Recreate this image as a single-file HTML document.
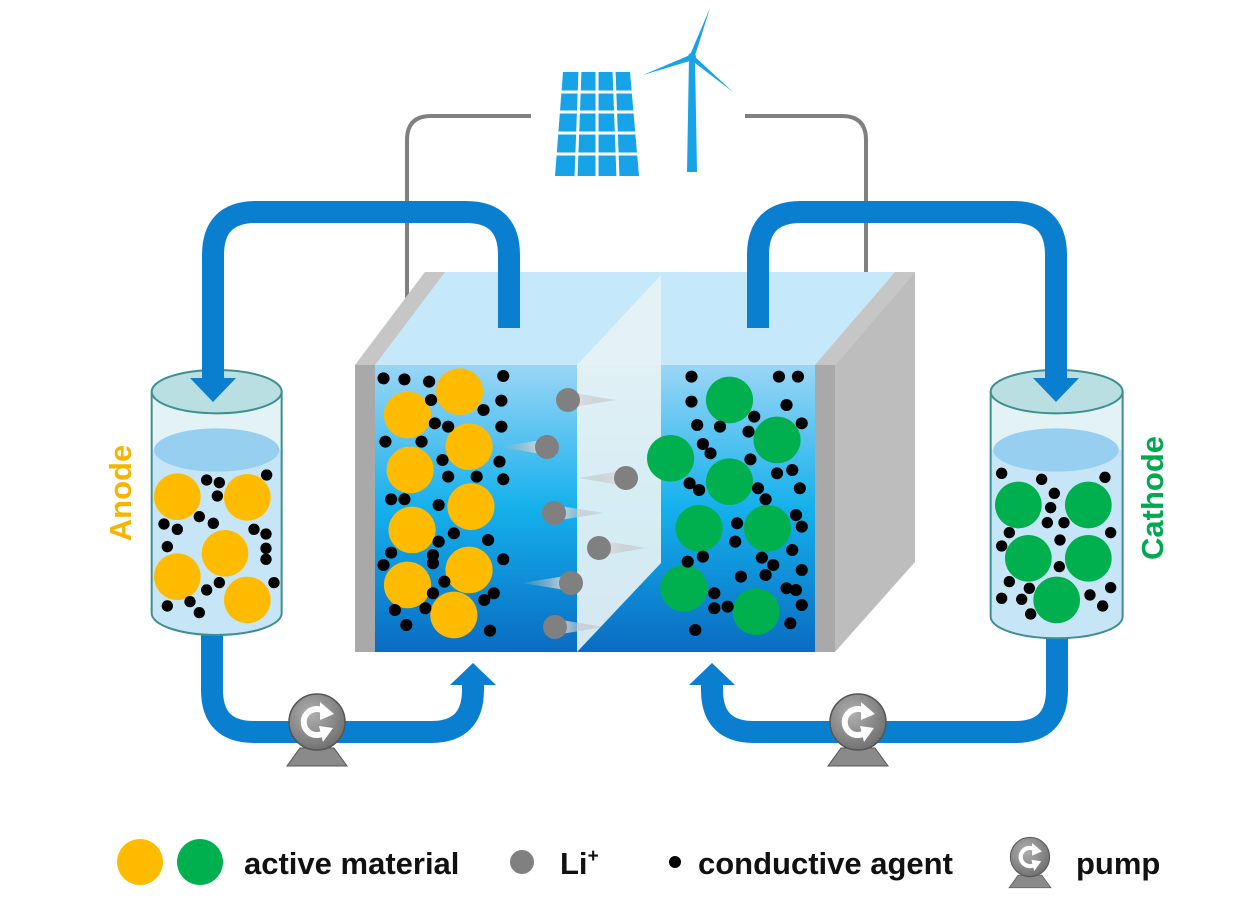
<!DOCTYPE html>
<html><head><meta charset="utf-8"><style>
html,body{margin:0;padding:0;background:#fff}
svg{display:block}
text{font-family:"Liberation Sans",Arial,sans-serif;font-weight:bold}
</style></head><body>
<svg width="1260" height="903" viewBox="0 0 1260 903" xmlns="http://www.w3.org/2000/svg">
<defs>
<linearGradient id="fr" x1="0" y1="0" x2="0" y2="1">
<stop offset="0" stop-color="#9ad6f6"/><stop offset="0.5" stop-color="#14b0ec"/><stop offset="1" stop-color="#0a6cc2"/>
</linearGradient>
<radialGradient id="pg" cx="0.4" cy="0.35" r="0.7">
<stop offset="0" stop-color="#b0b0b0"/><stop offset="1" stop-color="#6e6e6e"/>
</radialGradient>
<linearGradient id="tl" x1="0" y1="0" x2="1" y2="0">
<stop offset="0" stop-color="#e8e8e8" stop-opacity="0.95"/><stop offset="1" stop-color="#a0a0a0" stop-opacity="0.2"/>
</linearGradient>
<linearGradient id="tr" x1="1" y1="0" x2="0" y2="0">
<stop offset="0" stop-color="#e8e8e8" stop-opacity="0.95"/><stop offset="1" stop-color="#a0a0a0" stop-opacity="0.2"/>
</linearGradient>
<g id="pump">
<polygon points="-17,26 17,26 30,44 -30,44" fill="#8a8a8a" stroke="#555" stroke-width="1"/>
<circle r="28" fill="url(#pg)" stroke="#555" stroke-width="1.5"/>
<path d="M8,-10 A13,13 0 1 0 10,8" fill="none" stroke="#fff" stroke-width="6"/>
<polygon points="3,-20 17,-8 3,-2" fill="#fff"/>
<polygon points="2,4 16,6 6,20" fill="#fff"/>
</g>
</defs>

<path d="M407,318 V140 Q407,116 431,116 H531" fill="none" stroke="#808080" stroke-width="4"/>
<path d="M866,318 V140 Q866,116 842,116 H745" fill="none" stroke="#808080" stroke-width="4"/>

<polygon points="563,72 630,72 639,176 555,176" fill="#17a3e8"/>
<g stroke="#fff" stroke-width="3">
<line x1="580" y1="70" x2="576" y2="178"/><line x1="597" y1="70" x2="597" y2="178"/><line x1="614" y1="70" x2="618" y2="178"/>
<line x1="560" y1="92" x2="634" y2="92"/><line x1="558" y1="112" x2="636" y2="112"/><line x1="557" y1="133" x2="637" y2="133"/><line x1="556" y1="154" x2="638" y2="154"/>
</g>
<polygon points="689,58 695,58 697,172 687,172" fill="#17a3e8"/>
<polygon points="690,55 694,59 710,8" fill="#17a3e8"/>
<polygon points="690,55 693,60 643,75" fill="#17a3e8"/>
<polygon points="691,60 694,56 733,92" fill="#17a3e8"/>
<circle cx="692" cy="57" r="4" fill="#17a3e8"/>

<g fill="none" stroke="#0a7fd0" stroke-width="22">
<path d="M213,380 V255 Q213,212 256,212 H466 Q509,212 509,255 V328"/>
<path d="M758,328 V255 Q758,212 801,212 H1013 Q1056,212 1056,255 V380"/>
<path d="M212,620 V690 Q212,732 254,732 H431 Q473,732 473,690 V680"/>
<path d="M1057,620 V690 Q1057,732 1015,732 H754 Q712,732 712,690 V680"/>
</g>
<g fill="#0a7fd0">
<polygon points="473,663 450,685 496,685"/>
<polygon points="712,663 689,685 735,685"/>
</g>

<polygon points="355,365 425,272 915,272 835,365" fill="#c5e8fa"/>
<polygon points="355,365 375,365 445,272 425,272" fill="#c6c6c6"/>
<polygon points="815,365 835,365 915,272 895,272" fill="#c6c6c6"/>
<polygon points="835,365 915,272 915,562 835,652" fill="#bdbdbd"/>
<rect x="375" y="365" width="440" height="287" fill="url(#fr)"/>
<rect x="355" y="365" width="20" height="287" fill="#a9a9a9"/>
<rect x="815" y="365" width="20" height="287" fill="#a9a9a9"/>
<polygon points="577,365 661,275 661,563 577,652" fill="#e6f2f4" fill-opacity="0.92"/>

<g fill="#0a7fd0">
<rect x="498" y="272" width="22" height="56"/>
<rect x="747" y="272" width="22" height="56"/>
</g>

<g transform="matrix(0.3802 0 0 0.3333 339.8 260)">
<g fill="#ffbb00">
<ellipse cx="315" cy="395" rx="62" ry="70"/><ellipse cx="178" cy="465" rx="62" ry="70"/><ellipse cx="340" cy="560" rx="62" ry="70"/>
<ellipse cx="185" cy="630" rx="62" ry="70"/><ellipse cx="345" cy="740" rx="62" ry="70"/><ellipse cx="190" cy="810" rx="62" ry="70"/>
<ellipse cx="340" cy="930" rx="62" ry="70"/><ellipse cx="178" cy="975" rx="62" ry="70"/><ellipse cx="300" cy="1065" rx="62" ry="70"/>
</g>
<g fill="#00b04f">
<ellipse cx="1025" cy="420" rx="62" ry="70"/><ellipse cx="1150" cy="540" rx="62" ry="70"/><ellipse cx="870" cy="595" rx="62" ry="70"/>
<ellipse cx="1025" cy="665" rx="62" ry="70"/><ellipse cx="945" cy="805" rx="62" ry="70"/><ellipse cx="1125" cy="805" rx="62" ry="70"/>
<ellipse cx="905" cy="985" rx="62" ry="70"/><ellipse cx="1095" cy="1055" rx="62" ry="70"/>
</g>
<g fill="#000">
<ellipse cx="115" cy="355" rx="16" ry="18"/><ellipse cx="170" cy="358" rx="16" ry="18"/><ellipse cx="235" cy="365" rx="16" ry="18"/><ellipse cx="430" cy="348" rx="16" ry="18"/>
<ellipse cx="240" cy="420" rx="16" ry="18"/><ellipse cx="378" cy="450" rx="16" ry="18"/><ellipse cx="425" cy="422" rx="16" ry="18"/><ellipse cx="250" cy="490" rx="16" ry="18"/>
<ellipse cx="285" cy="500" rx="16" ry="18"/><ellipse cx="425" cy="500" rx="16" ry="18"/><ellipse cx="120" cy="545" rx="16" ry="18"/><ellipse cx="215" cy="545" rx="16" ry="18"/>
<ellipse cx="270" cy="600" rx="16" ry="18"/><ellipse cx="420" cy="605" rx="16" ry="18"/><ellipse cx="285" cy="650" rx="16" ry="18"/><ellipse cx="360" cy="650" rx="16" ry="18"/>
<ellipse cx="430" cy="658" rx="16" ry="18"/><ellipse cx="135" cy="718" rx="16" ry="18"/><ellipse cx="170" cy="718" rx="16" ry="18"/><ellipse cx="260" cy="735" rx="16" ry="18"/>
<ellipse cx="300" cy="820" rx="16" ry="18"/><ellipse cx="390" cy="840" rx="16" ry="18"/><ellipse cx="260" cy="845" rx="16" ry="18"/><ellipse cx="135" cy="878" rx="16" ry="18"/>
<ellipse cx="245" cy="885" rx="16" ry="18"/><ellipse cx="430" cy="898" rx="16" ry="18"/><ellipse cx="115" cy="915" rx="16" ry="18"/><ellipse cx="245" cy="910" rx="16" ry="18"/>
<ellipse cx="275" cy="965" rx="16" ry="18"/><ellipse cx="245" cy="1000" rx="16" ry="18"/><ellipse cx="405" cy="1000" rx="16" ry="18"/><ellipse cx="380" cy="1020" rx="16" ry="18"/>
<ellipse cx="145" cy="1050" rx="16" ry="18"/><ellipse cx="225" cy="1045" rx="16" ry="18"/><ellipse cx="175" cy="1095" rx="16" ry="18"/><ellipse cx="395" cy="1112" rx="16" ry="18"/>
<ellipse cx="925" cy="350" rx="16" ry="18"/><ellipse cx="1155" cy="350" rx="16" ry="18"/><ellipse cx="1205" cy="350" rx="16" ry="18"/><ellipse cx="925" cy="425" rx="16" ry="18"/>
<ellipse cx="1175" cy="435" rx="16" ry="18"/><ellipse cx="940" cy="495" rx="16" ry="18"/><ellipse cx="1000" cy="500" rx="16" ry="18"/><ellipse cx="1090" cy="470" rx="16" ry="18"/>
<ellipse cx="1075" cy="515" rx="16" ry="18"/><ellipse cx="1215" cy="490" rx="16" ry="18"/><ellipse cx="955" cy="552" rx="16" ry="18"/><ellipse cx="975" cy="580" rx="16" ry="18"/>
<ellipse cx="1080" cy="598" rx="16" ry="18"/><ellipse cx="1150" cy="640" rx="16" ry="18"/><ellipse cx="1190" cy="630" rx="16" ry="18"/><ellipse cx="920" cy="670" rx="16" ry="18"/>
<ellipse cx="945" cy="690" rx="16" ry="18"/><ellipse cx="1100" cy="685" rx="16" ry="18"/><ellipse cx="1120" cy="718" rx="16" ry="18"/><ellipse cx="1210" cy="685" rx="16" ry="18"/>
<ellipse cx="1045" cy="790" rx="16" ry="18"/><ellipse cx="1200" cy="765" rx="16" ry="18"/><ellipse cx="1215" cy="800" rx="16" ry="18"/><ellipse cx="1040" cy="845" rx="16" ry="18"/>
<ellipse cx="955" cy="890" rx="16" ry="18"/><ellipse cx="915" cy="905" rx="16" ry="18"/><ellipse cx="1110" cy="893" rx="16" ry="18"/><ellipse cx="1140" cy="915" rx="16" ry="18"/>
<ellipse cx="1190" cy="870" rx="16" ry="18"/><ellipse cx="1215" cy="930" rx="16" ry="18"/><ellipse cx="1055" cy="950" rx="16" ry="18"/><ellipse cx="1120" cy="945" rx="16" ry="18"/>
<ellipse cx="985" cy="1000" rx="16" ry="18"/><ellipse cx="1175" cy="985" rx="16" ry="18"/><ellipse cx="1200" cy="990" rx="16" ry="18"/><ellipse cx="985" cy="1045" rx="16" ry="18"/>
<ellipse cx="1020" cy="1040" rx="16" ry="18"/><ellipse cx="1215" cy="1035" rx="16" ry="18"/><ellipse cx="935" cy="1110" rx="16" ry="18"/><ellipse cx="1185" cy="1090" rx="16" ry="18"/>
</g>
</g>

<g>
<polygon points="568,392 616,400 568,408" fill="url(#tl)"/><circle cx="568" cy="400" r="12" fill="#808080"/>
<polygon points="547,439 499,447 547,455" fill="url(#tr)"/><circle cx="547" cy="447" r="12" fill="#808080"/>
<polygon points="626,470 578,478 626,486" fill="url(#tr)"/><circle cx="626" cy="478" r="12" fill="#808080"/>
<polygon points="554,505 604,513 554,521" fill="url(#tl)"/><circle cx="554" cy="513" r="12" fill="#808080"/>
<polygon points="599,540 646,548 599,556" fill="url(#tl)"/><circle cx="599" cy="548" r="12" fill="#808080"/>
<polygon points="571,575 522,583 571,591" fill="url(#tr)"/><circle cx="571" cy="583" r="12" fill="#808080"/>
<polygon points="555,619 604,627 555,635" fill="url(#tl)"/><circle cx="555" cy="627" r="12" fill="#808080"/>
</g>

<g transform="matrix(0.3333 0 0 0.3333 140 360)">
<path d="M35,95 V760 A195,65 0 0 0 425,760 V95 Z" fill="#e3f2f5"/>
<path d="M35,270 V760 A195,65 0 0 0 425,760 V270 Z" fill="#c6e6f7"/>
<ellipse cx="230" cy="270" rx="188" ry="65" fill="#97cff1"/>
<g fill="#ffbb00">
<circle cx="112" cy="410" r="70"/><circle cx="322" cy="412" r="70"/><circle cx="255" cy="580" r="70"/><circle cx="112" cy="650" r="70"/><circle cx="322" cy="720" r="70"/>
</g>
<g fill="#000">
<circle cx="200" cy="360" r="17"/><circle cx="238" cy="368" r="17"/><circle cx="380" cy="345" r="17"/><circle cx="232" cy="408" r="17"/><circle cx="178" cy="470" r="17"/>
<circle cx="220" cy="490" r="17"/><circle cx="72" cy="492" r="17"/><circle cx="112" cy="508" r="17"/><circle cx="342" cy="508" r="17"/><circle cx="378" cy="522" r="17"/>
<circle cx="82" cy="560" r="17"/><circle cx="378" cy="565" r="17"/><circle cx="378" cy="598" r="17"/><circle cx="200" cy="690" r="17"/><circle cx="238" cy="668" r="17"/>
<circle cx="402" cy="668" r="17"/><circle cx="150" cy="725" r="17"/><circle cx="82" cy="738" r="17"/><circle cx="178" cy="758" r="17"/>
</g>
<ellipse cx="230" cy="95" rx="195" ry="65" fill="#b9dfe2" stroke="#3f8f8f" stroke-width="6"/>
<path d="M35,95 V760 A195,65 0 0 0 425,760 V95" fill="none" stroke="#3f8f8f" stroke-width="6"/>
</g>
<rect x="202" y="360" width="22" height="22" fill="#0a7fd0"/>
<polygon points="190,378 236,378 213,402" fill="#0a7fd0"/>

<g transform="matrix(0.3333 0 0 0.3333 960 360)">
<path d="M92,95 V770 A198,65 0 0 0 488,770 V95 Z" fill="#e3f2f5"/>
<path d="M92,270 V770 A198,65 0 0 0 488,770 V270 Z" fill="#c6e6f7"/>
<ellipse cx="288" cy="270" rx="188" ry="65" fill="#97cff1"/>
<g fill="#00b04f">
<circle cx="175" cy="435" r="70"/><circle cx="385" cy="435" r="70"/><circle cx="205" cy="595" r="70"/><circle cx="385" cy="595" r="70"/><circle cx="290" cy="720" r="70"/>
</g>
<g fill="#000">
<circle cx="125" cy="340" r="17"/><circle cx="245" cy="358" r="17"/><circle cx="435" cy="352" r="17"/><circle cx="283" cy="400" r="17"/><circle cx="272" cy="443" r="17"/>
<circle cx="262" cy="488" r="17"/><circle cx="312" cy="488" r="17"/><circle cx="148" cy="518" r="17"/><circle cx="452" cy="518" r="17"/><circle cx="125" cy="558" r="17"/>
<circle cx="300" cy="540" r="17"/><circle cx="298" cy="620" r="17"/><circle cx="148" cy="665" r="17"/><circle cx="208" cy="685" r="17"/><circle cx="452" cy="683" r="17"/>
<circle cx="125" cy="715" r="17"/><circle cx="185" cy="718" r="17"/><circle cx="390" cy="705" r="17"/><circle cx="428" cy="738" r="17"/><circle cx="212" cy="762" r="17"/>
</g>
<ellipse cx="290" cy="95" rx="198" ry="65" fill="#b9dfe2" stroke="#3f8f8f" stroke-width="6"/>
<path d="M92,95 V770 A198,65 0 0 0 488,770 V95" fill="none" stroke="#3f8f8f" stroke-width="6"/>
</g>
<rect x="1045" y="360" width="22" height="22" fill="#0a7fd0"/>
<polygon points="1033,378 1079,378 1056,402" fill="#0a7fd0"/>

<use href="#pump" x="317" y="722"/>
<use href="#pump" x="858" y="722"/>

<text x="0" y="0" font-size="31" fill="#f5b400" text-anchor="middle" transform="translate(131,493) rotate(-90)">Anode</text>
<text x="0" y="0" font-size="31" fill="#00a850" text-anchor="middle" transform="translate(1163,498) rotate(-90)">Cathode</text>

<circle cx="140" cy="862" r="23" fill="#ffbb00"/>
<circle cx="200" cy="862" r="23" fill="#00b04f"/>
<text x="244" y="874" font-size="31" fill="#111">active material</text>
<circle cx="522" cy="862" r="12" fill="#808080"/>
<text x="560" y="874" font-size="31" fill="#111">Li<tspan font-size="19" dy="-12">+</tspan></text>
<circle cx="675" cy="862" r="6" fill="#000"/>
<text x="698" y="874" font-size="31" fill="#111">conductive agent</text>
<g transform="translate(1030,857) scale(0.7)"><use href="#pump"/></g>
<text x="1076" y="874" font-size="31" fill="#111">pump</text>
</svg>
</body></html>
